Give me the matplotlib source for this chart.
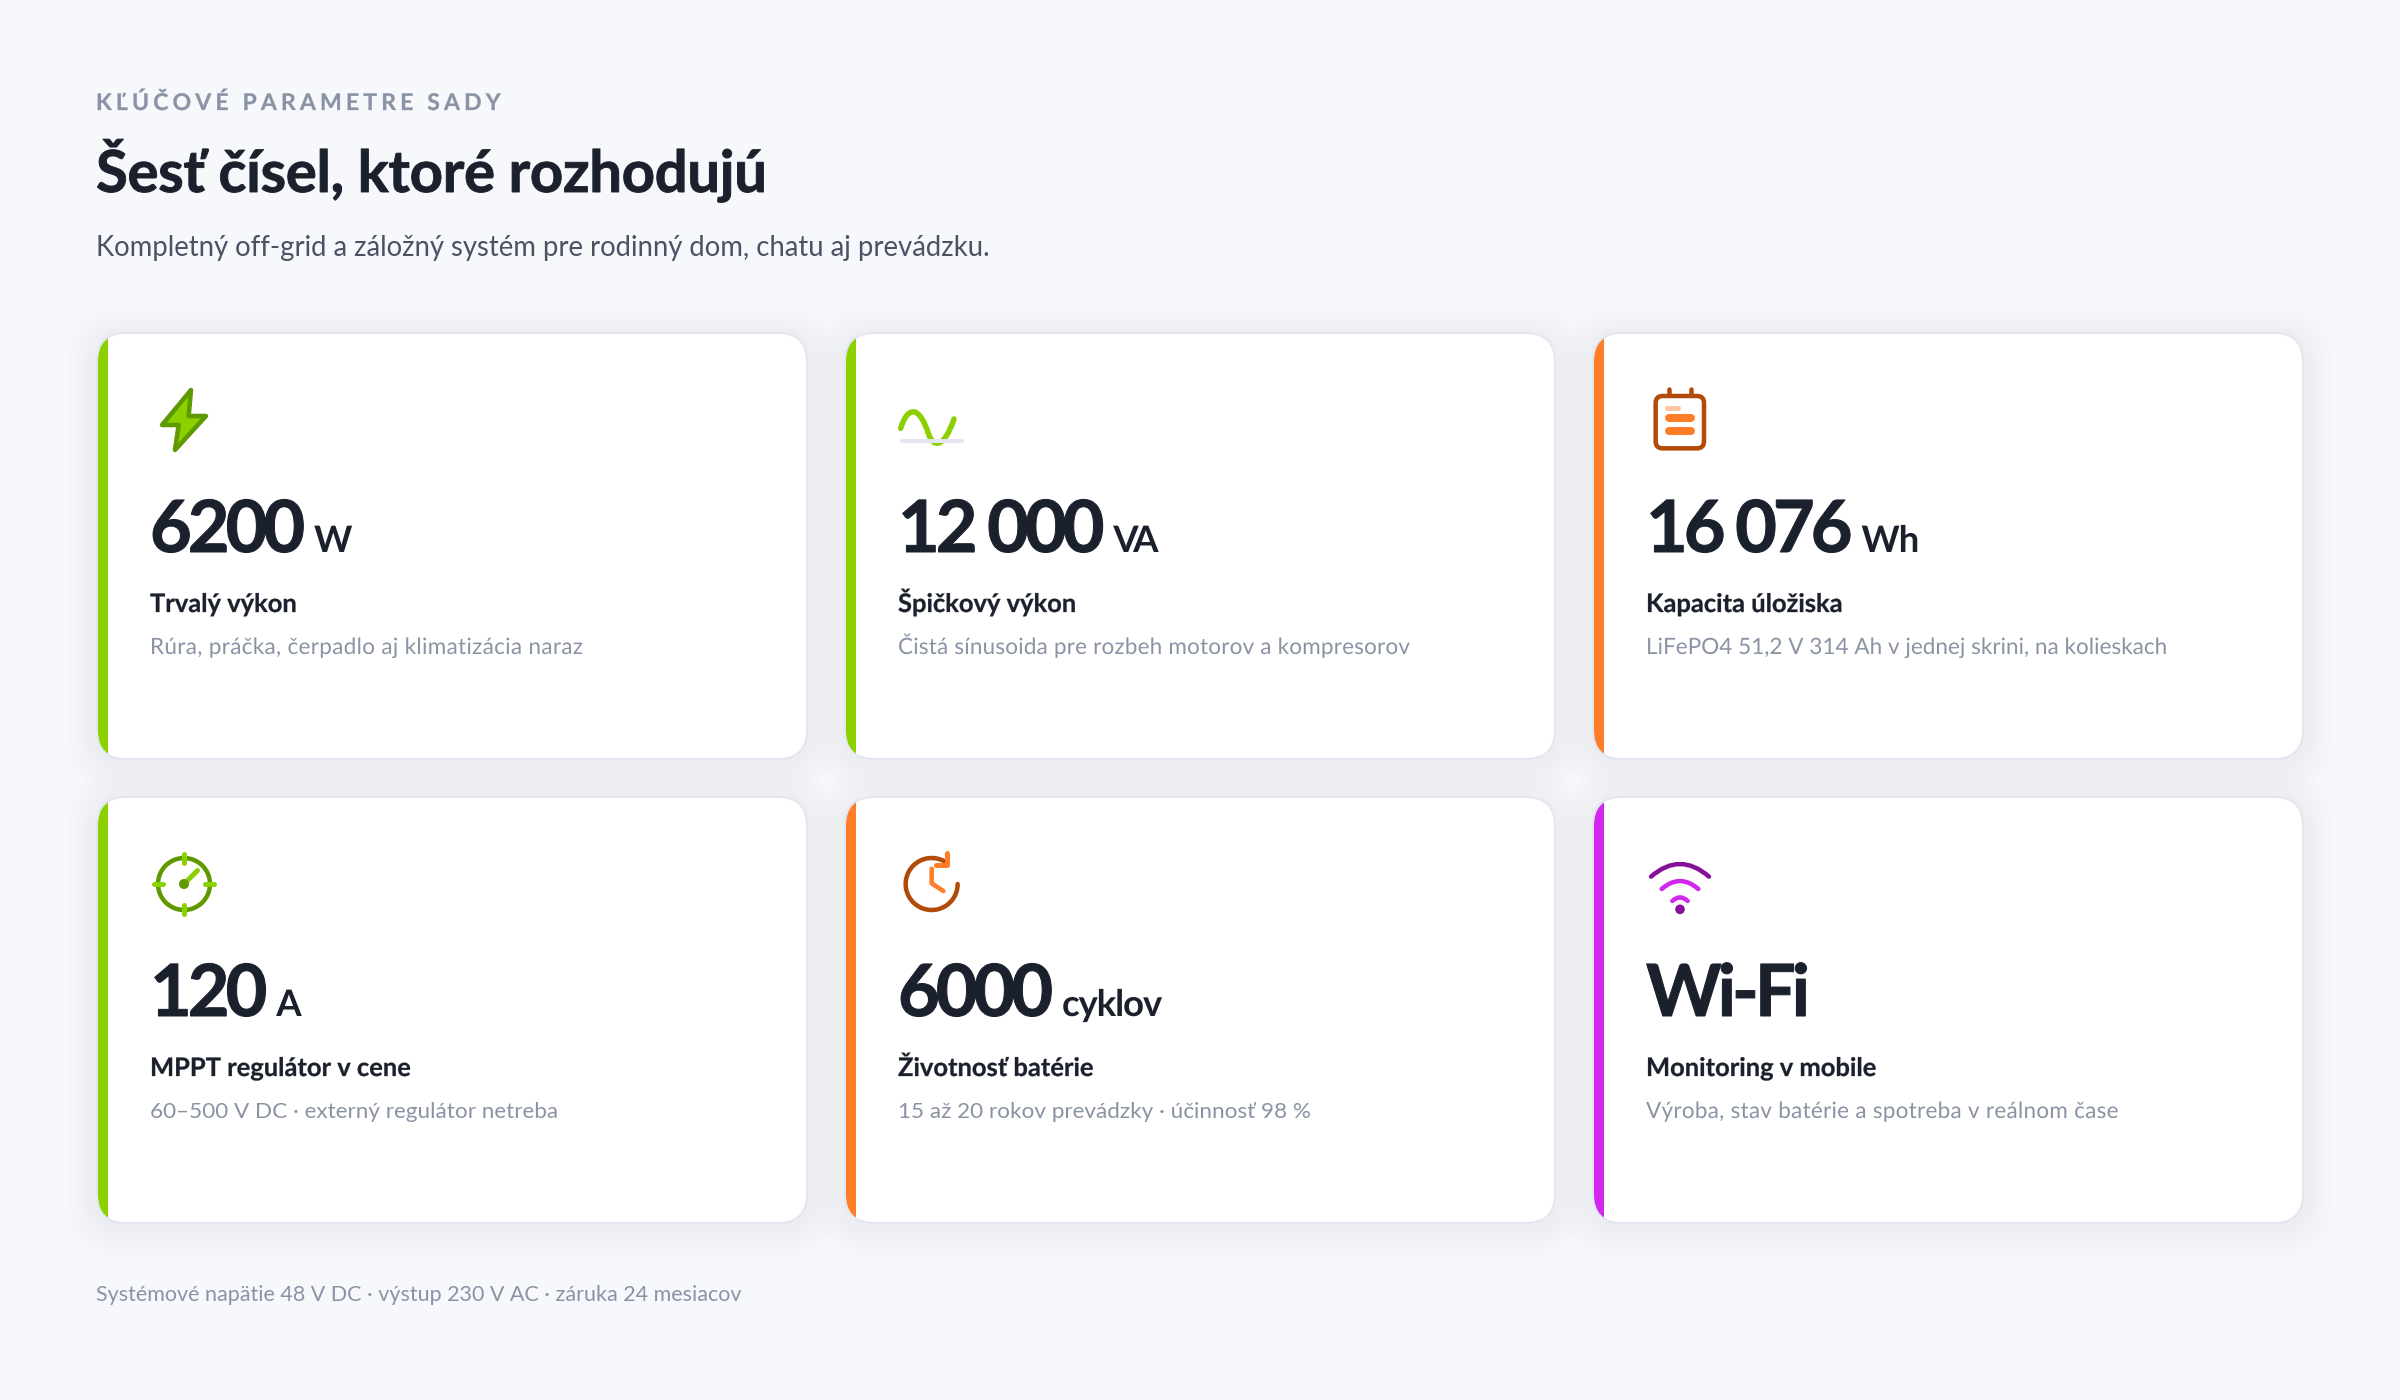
import matplotlib
matplotlib.use("Agg")
import matplotlib.pyplot as plt
from matplotlib.font_manager import FontProperties
from matplotlib.patches import Arc, Circle, FancyBboxPatch, PathPatch, Polygon, Rectangle
from matplotlib.path import Path
from matplotlib.patheffects import AbstractPathEffect
from matplotlib.text import Text
from matplotlib.textpath import TextPath
from matplotlib.transforms import Bbox

# obsah kariet
values = ["6200", "12 000", "16 076", "120", "6000", "Wi-Fi"]
units = ["W", "VA", "Wh", "A", "cyklov", ""]
labels = ["Trvalý výkon", "Špičkový výkon", "Kapacita úložiska",
          "MPPT regulátor v cene", "Životnosť batérie", "Monitoring v mobile"]
notes = ["Rúra, práčka, čerpadlo aj klimatizácia naraz",
         "Čistá sínusoida pre rozbeh motorov a kompresorov",
         "LiFePO4 51,2 V 314 Ah v jednej skrini, na kolieskach",
         "60–500 V DC · externý regulátor netreba",
         "15 až 20 rokov prevádzky · účinnosť 98 %",
         "Výroba, stav batérie a spotreba v reálnom čase"]
accents = ["green", "green", "orange", "green", "orange", "magenta"]
note_track = [0.014, 0.0085, 0.0013, 0, 0, 0.0118]
unit_track = [-0.03, -0.15, -0.03, -0.03, -0.03, 0]

eyebrow = "KĽÚČOVÉ PARAMETRE SADY"
title = "Šesť čísel, ktoré rozhodujú"
subtitle = "Kompletný off-grid a záložný systém pre rodinný dom, chatu aj prevádzku."
footer = "Systémové napätie 48 V DC · výstup 230 V AC · záruka 24 mesiacov"

BG = "#F6F8FC"
INK = "#1B202D"
MUTED = "#8A93A5"
EDGE = "#E3E6EE"
BRIGHT = {"green": "#8CD000", "orange": "#FF7D26", "magenta": "#D126EE"}
DARK = {"green": "#5F9900", "orange": "#B24A0A", "magenta": "#860F9A"}

FONT = "Lato"
px = 0.72  # 1 px obrazku v bodoch pri dpi 100


class Tracked(AbstractPathEffect):
    """letter-spacing, hrubsi rez a zvacsenie: text ostava jeden objekt"""

    def __init__(self, s, prop, track, bold, zoom):
        super().__init__()
        self.ends = [len(TextPath((0, 0), s[:i + 1], size=100, prop=prop).vertices)
                     for i in range(len(s))]
        self.track = track
        self.bold = bold
        self.zoom = zoom

    def draw_path(self, renderer, gc, tpath, affine, rgbFace=None):
        verts = tpath.vertices * self.zoom
        start = 0
        for i, end in enumerate(self.ends):
            verts[start:end, 0] += i * self.track * 100
            start = end
        gc0 = renderer.new_gc()
        gc0.copy_properties(gc)
        gc0.set_linewidth(self.bold * px)
        renderer.draw_path(gc0, Path(verts, tpath.codes), affine, rgbFace)
        gc0.restore()


class SpacedText(Text):
    """Text, ktoreho rozmer pocita aj s letter-spacingom a zvacsenim"""

    extra = 0
    zoom = 1

    def get_window_extent(self, renderer=None, dpi=None):
        b = super().get_window_extent(renderer, dpi)
        return Bbox.from_extents(b.x0, b.y0, b.x0 + b.width * self.zoom + self.extra, b.y1)


fig = plt.figure(figsize=(24, 14), dpi=100, facecolor=BG)
ax = fig.add_axes([0, 0, 1, 1])
ax.set_xlim(0, 2400)
ax.set_ylim(1400, 0)
ax.axis("off")


def put(x, y, s, size, color, weight="normal", track=0, bold=0, zoom=1):
    prop = FontProperties(family=FONT, weight=weight, size=size * px)
    t = SpacedText(x, y, s, fontproperties=prop, color=color, va="baseline", ha="left",
                   zorder=5, clip_on=False)
    ax.add_artist(t)
    if track or bold:
        t.set_path_effects([Tracked(s, prop, track, bold, zoom)])
        t.extra = (len(s) - 1) * track * size
        t.zoom = zoom
    return t


def stroke(pts, color, lw, codes=None, z=4):
    ax.add_patch(PathPatch(Path(pts, codes), fill=False, edgecolor=color, lw=lw * px,
                           capstyle="round", joinstyle="round", zorder=z))


# ikony su kreslene v 3x zvacsenych suradniciach od bodu (ox, oy)
def icon_bolt(ox, oy, c):
    pts = [(303, 210), (216, 315), (266, 315), (255, 390), (348, 288), (296, 288)]
    ax.add_patch(Polygon([(ox + a / 3, oy + b / 3) for a, b in pts], closed=True,
                         facecolor=BRIGHT[c], edgecolor=DARK[c], lw=4.5 * px,
                         joinstyle="round", zorder=4))


def icon_wave(ox, oy, c):
    pts = [(182, 325), (205, 252), (240, 262), (265, 340), (280, 385), (312, 385), (342, 297)]
    codes = [Path.MOVETO] + [Path.CURVE4] * 6
    stroke([(ox + a / 3, oy + b / 3) for a, b in pts], BRIGHT[c], 5.5, codes)
    stroke([(ox + 185 / 3, oy + 363 / 3), (ox + 367 / 3, oy + 363 / 3)], EDGE, 4, z=4.5)


def icon_battery(ox, oy, c):
    ax.add_patch(FancyBboxPatch((ox + 197 / 3, oy + 228 / 3), 145 / 3, 157 / 3,
                                boxstyle="round,pad=0,rounding_size=7", facecolor="white",
                                edgecolor=DARK[c], lw=4.5 * px, zorder=4))
    for tab in (238, 302):
        stroke([(ox + tab / 3, oy + 208 / 3), (ox + tab / 3, oy + 226 / 3)], DARK[c], 4.5)
    stroke([(ox + 231 / 3, oy + 263 / 3), (ox + 265 / 3, oy + 263 / 3)], "#FFC3A0", 5)
    for row in (293, 332):
        stroke([(ox + 238 / 3, oy + row / 3), (ox + 302 / 3, oy + row / 3)], BRIGHT[c], 8)


def icon_gauge(ox, oy, c):
    cx, cy = ox + 282 / 3, oy + 282 / 3
    ax.add_patch(Circle((cx, cy), 26, fill=False, edgecolor=DARK[c], lw=4.5 * px, zorder=4))
    for a, b, d, e in [(0, -26, 0, -30), (0, 26, 0, 30), (-26, 0, -30, 0), (26, 0, 30, 0)]:
        stroke([(cx + a * 0.8, cy + b * 0.8), (cx + d, cy + e)], BRIGHT[c], 5, z=4.5)
    stroke([(cx, cy), (cx + 13.5, cy - 13.5)], BRIGHT[c], 5, z=4.5)
    ax.add_patch(Circle((cx, cy), 5, facecolor=DARK[c], edgecolor="none", zorder=4.6))


def icon_clock(ox, oy, c):
    cx, cy = ox + 275 / 3, oy + 282 / 3
    # os y je otocena, preto uhly idu v smere hodin
    ax.add_patch(Arc((cx, cy), 52, 52, theta1=0, theta2=300, edgecolor=DARK[c], lw=4.5 * px,
                     capstyle="round", zorder=4))
    stroke([(ox + 320 / 3, oy + 190 / 3), (ox + 320 / 3, oy + 225 / 3), (ox + 287 / 3, oy + 225 / 3)],
           BRIGHT[c], 5, z=4.5)
    stroke([(ox + 275 / 3, oy + 236 / 3), (ox + 275 / 3, oy + 280 / 3), (ox + 310 / 3, oy + 303 / 3)],
           BRIGHT[c], 4.5, z=4.5)


def icon_wifi(ox, oy, c):
    codes = [Path.MOVETO, Path.CURVE3, Path.CURVE3]
    arcs = [(183, 357, 260, 222, DARK[c]), (215, 325, 297, 273, BRIGHT[c]), (247, 293, 333, 322, BRIGHT[c])]
    for x0, x1, low, top, col in arcs:
        pts = [(ox + x0 / 3, oy + low / 3), (ox + 270 / 3, oy + (2 * top - low) / 3), (ox + x1 / 3, oy + low / 3)]
        stroke(pts, col, 4.5, codes)
    ax.add_patch(Circle((ox + 270 / 3, oy + 358 / 3), 4.8, facecolor=DARK[c], edgecolor="none", zorder=4))


icons = [icon_bolt, icon_wave, icon_battery, icon_gauge, icon_clock, icon_wifi]
icon_xy = [(90, 320), (840, 320), (1590, 320), (90, 790), (840, 790), (1590, 790)]

card_w, card_h = 712, 428
card_x = [96, 844, 1592]
card_y = [332, 796]
radius = 30

fig.canvas.draw()
rend = fig.canvas.get_renderer()

for i in range(6):
    x, y = card_x[i % 3], card_y[i // 3]

    # jemny tien pod kartou
    for grow in range(4, 34, 3):
        ax.add_patch(FancyBboxPatch((x - grow, y - grow + 4), card_w + 2 * grow, card_h + 2 * grow,
                                    boxstyle=f"round,pad=0,rounding_size={radius + grow}",
                                    facecolor="#1B2A4A", edgecolor="none", alpha=0.002, zorder=1))

    box = dict(boxstyle=f"round,pad=0,rounding_size={radius - 1}")
    body = FancyBboxPatch((x + 1, y + 1), card_w - 2, card_h - 2, facecolor="white", edgecolor="none", zorder=2, **box)
    ax.add_patch(body)
    bar = Rectangle((x, y), 12, card_h, facecolor=BRIGHT[accents[i]], edgecolor="none", zorder=2.5)
    ax.add_patch(bar)
    bar.set_clip_path(body)
    ax.add_patch(FancyBboxPatch((x + 1, y + 1), card_w - 2, card_h - 2, fill=False, edgecolor=EDGE,
                                lw=2 * px, zorder=3, **box))

    icons[i](icon_xy[i][0], icon_xy[i][1], accents[i])

    tx = x + 54
    # 66 * 72/66: velkost 72 px, rozmer textu ostava blizko skutocnej sirky po stiahnuti pismen
    t = put(tx, y + 220, values[i], 66, INK, "bold", track=-0.055 * 72 / 66, bold=1.0, zoom=72 / 66)
    if units[i]:
        w = t.get_window_extent(rend).width
        put(tx + w + 9, y + 220, units[i], 36.5, INK, "bold", track=unit_track[i])
    put(tx, y + 280, labels[i], 25.5, INK, "bold", bold=0.3)
    put(tx, y + 322, notes[i], 22.5, MUTED, track=note_track[i])

put(96, 110, eyebrow, 23, MUTED, "bold", track=0.18, bold=0.3)
put(96, 192, title, 58, INK, "bold", track=-0.005, bold=0.9)
put(96, 256, subtitle, 27.5, "#4A5263")
put(96, 1301, footer, 21.5, MUTED)

fig.savefig("out.png", dpi=100, facecolor=BG)
